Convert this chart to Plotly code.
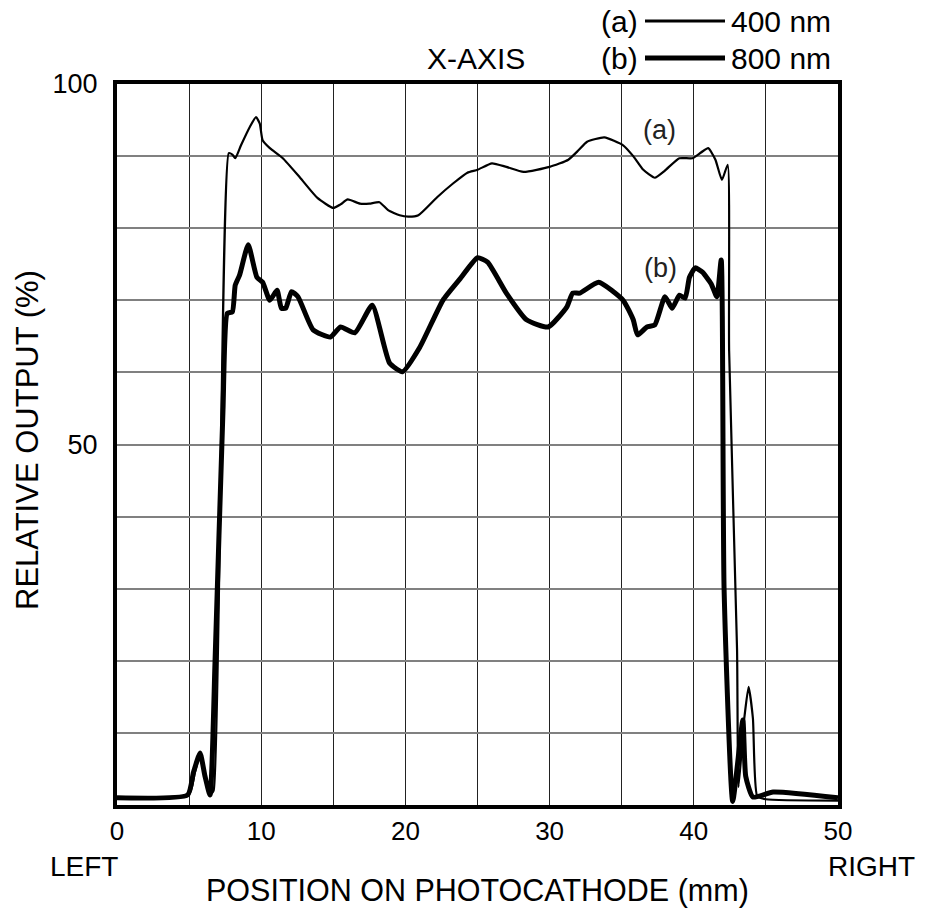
import plotly.graph_objects as go

# ---- data ----
x_a = [0, 5.0, 5.4, 5.8, 6.1, 6.45, 6.7, 7.75, 8.0, 8.2, 8.6, 9.2, 9.64, 9.9, 10.1,
       10.6, 11.5, 12.7, 13.9, 15.0, 15.5, 16.0, 16.85, 17.5, 18.2, 18.8, 19.6, 20.2,
       20.9, 22.2, 23.3, 24.3, 25.0, 26.0, 27.0, 28.2, 30.0, 31.3, 32.0, 32.6, 33.8,
       35.1, 35.8, 36.5, 37.3, 38.0, 39.0, 39.9, 40.5, 41.0, 41.5, 41.95, 42.35, 42.45,
       43.0, 43.1, 43.5, 43.8, 44.1, 44.4, 45.0, 50]
y_a = [1.0, 1.5, 4.5, 7.3, 4.0, 1.4, 2.0, 90.4, 90.2, 89.7, 91.5, 94.0, 95.4, 94.5, 92.2,
       91.1, 89.7, 87.0, 84.2, 82.8, 83.3, 84.0, 83.4, 83.4, 83.6, 82.5, 81.8, 81.6,
       81.8, 84.3, 86.2, 87.7, 88.1, 89.0, 88.5, 87.8, 88.5, 89.5, 90.8, 92.0, 92.6,
       91.5, 90.0, 88.1, 87.0, 88.0, 89.7, 89.7, 90.5, 91.1, 89.5, 86.7, 88.8, 63.0,
       21.5, 2.5, 12.0, 16.4, 12.0, 1.2, 0.8, 0.6]

x_b = [0, 4.9, 5.3, 5.76, 6.1, 6.45, 6.8, 7.35, 7.65, 8.0, 8.2, 8.5, 9.1, 9.7, 10.1,
       10.6, 11.1, 11.4, 11.7, 12.1, 12.55, 13.6, 14.8, 15.5, 16.5, 17.7, 18.9, 19.8,
       21.0, 22.6, 23.8, 25.0, 25.7, 27.0, 28.4, 29.9, 31.2, 31.6, 32.1, 33.4, 35.1,
       35.8, 36.1, 36.75, 37.3, 38.0, 38.5, 39.0, 39.4, 39.7, 40.1, 40.6, 41.2, 41.6,
       41.9, 42.1, 42.7, 43.4, 43.6, 44.1, 45.5, 50]
y_b = [1.0, 1.4, 4.5, 7.2, 4.0, 1.4, 20.0, 54.8, 68.2, 68.4, 72.1, 73.5, 77.7, 73.2, 72.5,
       70.0, 71.4, 68.9, 68.9, 71.2, 70.5, 65.9, 64.9, 66.3, 65.5, 69.3, 61.3, 60.1,
       63.5, 70.0, 73.0, 75.9, 75.3, 71.0, 67.3, 66.3, 69.1, 71.0, 71.0, 72.5, 70.0,
       67.3, 65.2, 66.3, 66.6, 70.5, 68.9, 70.7, 70.3, 73.2, 74.5, 73.9, 72.3, 70.5,
       75.6, 30.0, 0.5, 11.8, 4.0, 1.1, 1.8, 1.0]

x_tickvals = [0, 5, 10, 15, 20, 25, 30, 35, 40, 45, 50]
x_ticktext = ["0", "", "10", "", "20", "", "30", "", "40", "", "50"]
y_tickvals = [0, 10, 20, 30, 40, 50, 60, 70, 80, 90, 100]
y_ticktext = ["", "", "", "", "", "50", "", "", "", "", "100"]

FONT = "Liberation Sans, Arial, Helvetica, sans-serif"

fig = go.Figure()
fig.add_trace(go.Scatter(x=x_a, y=y_a, mode="lines", name="(a) 400 nm",
                         line=dict(color="black", width=2.2, shape="spline", smoothing=0.5)))
fig.add_trace(go.Scatter(x=x_b, y=y_b, mode="lines", name="(b) 800 nm",
                         line=dict(color="black", width=5, shape="spline", smoothing=0.5)))

fig.update_layout(
    width=925, height=910,
    margin=dict(l=117, r=87, t=84, b=105),
    paper_bgcolor="white", plot_bgcolor="white",
    showlegend=False,
    font=dict(family=FONT, size=27, color="black"),
)
fig.update_xaxes(range=[0, 50], tickvals=x_tickvals, ticktext=x_ticktext,
                 showgrid=True, gridcolor="#222222", gridwidth=1,
                 showline=True, linecolor="black", linewidth=4, mirror=True,
                 ticks="", ticklabelstandoff=0, zeroline=False,
                 tickfont=dict(size=26))
fig.update_yaxes(range=[0, 100], tickvals=y_tickvals, ticktext=y_ticktext,
                 showgrid=True, gridcolor="#808080", gridwidth=1.5,
                 showline=True, linecolor="black", linewidth=4, mirror=True,
                 ticks="", ticklabelstandoff=10, zeroline=False,
                 tickfont=dict(size=27))

def txt(x, y, s, size=30, xanchor="center", xref="paper", yref="paper", angle=0, color="black"):
    fig.add_annotation(x=x, y=y, xref=xref, yref=yref, text=s, showarrow=False,
                       xanchor=xanchor, yanchor="middle", textangle=angle,
                       font=dict(family=FONT, size=size, color=color))

def px(xp):
    return (xp - 117) / 721.0

def py(yp):
    return (805 - yp) / 721.0

txt(px(84), py(866), "LEFT", size=28)
txt(px(871), py(866), "RIGHT", size=28)
txt(px(477), py(890), "POSITION ON PHOTOCATHODE (mm)", size=30.5)
txt(px(27), py(440), "RELATIVE OUTPUT (%)", size=31, angle=-90)
txt(px(476), py(58), "X-AXIS")
# legend
txt(px(619), py(21), "(a)")
txt(px(619), py(58), "(b)")
txt(px(729), py(21), "400 nm", xanchor="left")
txt(px(729), py(58), "800 nm", xanchor="left")
fig.add_shape(type="line", xref="paper", yref="paper", x0=px(645), x1=px(725),
              y0=py(21), y1=py(21), line=dict(color="black", width=3))
fig.add_shape(type="line", xref="paper", yref="paper", x0=px(645), x1=px(725),
              y0=py(58), y1=py(58), line=dict(color="black", width=5))
# curve labels
txt(37.6, 93.6, "(a)", size=27, xref="x", yref="y", color="#222222")
txt(37.7, 74.5, "(b)", size=27, xref="x", yref="y", color="#222222")

fig.write_html("out.html")
